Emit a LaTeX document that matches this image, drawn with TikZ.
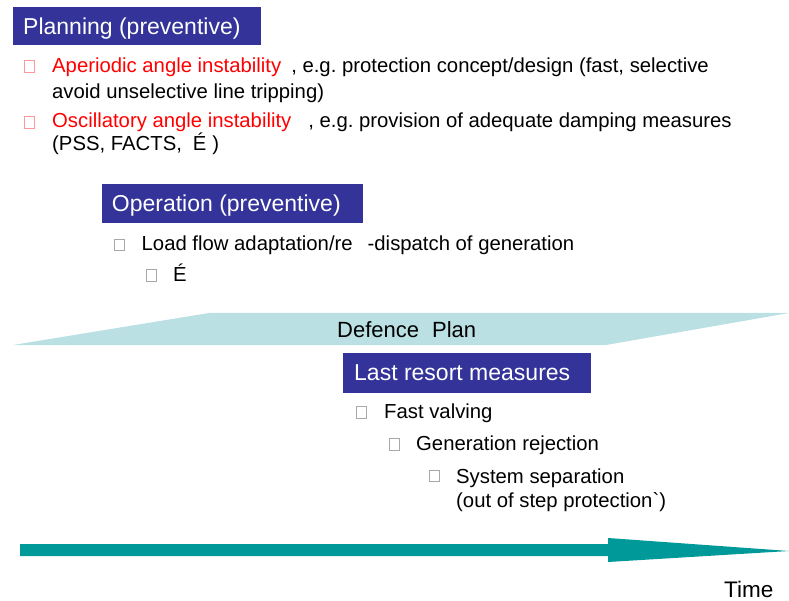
\documentclass[tikz,border=0pt]{standalone}
\usepackage{fontspec}
\setmainfont{Liberation Sans}
\frenchspacing
\definecolor{boxblue}{HTML}{333399}
\definecolor{bandc}{HTML}{BBE0E3}
\definecolor{arrowc}{HTML}{009999}
\definecolor{pinkb}{HTML}{FF9999}
\definecolor{greyb}{HTML}{A8A8A8}
\definecolor{redt}{HTML}{FF0000}
\begin{document}
\begin{tikzpicture}[x=1pt,y=-1pt,
  titlebox/.style={fill=boxblue,draw=none,inner sep=0pt,anchor=north west},
  titletext/.style={text=white,font=\fontsize{23}{27}\selectfont,inner sep=0pt,anchor=base west},
  bodytext/.style={text=black,font=\fontsize{20.3}{26}\selectfont,inner sep=0pt,anchor=base west},
  bigtext/.style={text=black,font=\fontsize{22}{26}\selectfont,inner sep=0pt,anchor=base},
  bul/.style={draw=#1,line width=0.7pt,inner sep=0pt,minimum width=10pt,minimum height=11.5pt}]
\useasboundingbox (0,0) rectangle (789,601);
\fill[white] (0,0) rectangle (789,601);

% Planning
\node[titlebox,minimum width=248pt,minimum height=38pt] (plan) at (13,7) {};
\node[titletext] (plant) at (23,34.5) {Planning (preventive)};
\node[bul=pinkb] (b1) at (29.5,66.2) {};
\node[bodytext] (t1) at (52,73) {\textcolor{redt}{Aperiodic angle instability}\hspace{10pt}, e.g. protection concept/design (fast, selective};
\node[bodytext] (t1b) at (52,99) {avoid unselective line tripping)};
\node[bul=pinkb] (b2) at (29.5,122.5) {};
\node[bodytext] (t2) at (52,128) {\textcolor{redt}{Oscillatory angle instability}\hspace{17pt}, e.g. provision of adequate damping measures};
\node[bodytext] (t2b) at (52,151) {(PSS, FACTS,\hspace{11pt}É\hspace{6pt})};

% Operation
\node[titlebox,minimum width=261pt,minimum height=38.5pt] (op) at (102,184) {};
\node[titletext] (opt) at (111.7,211.7) {Operation (preventive)};
\node[bul=greyb] (b3) at (119,245) {};
\node[bodytext] (t3) at (141.5,251) {Load flow adaptation/re\hspace{15pt}-dispatch of generation};
\node[bul=greyb] (b4) at (151.5,275.5) {};
\node[bodytext] (t4) at (173,281.5) {É};

% Defence plan band
\fill[bandc] (13,345) -- (209,313) -- (789,313) -- (606,345) -- cycle;
\node[bigtext] (dp) at (406.7,337.3) {Defence\hspace{13pt}Plan};

% Last resort
\node[titlebox,minimum width=248pt,minimum height=39.5pt] (lr) at (343,353) {};
\node[titletext] (lrt) at (354,380.7) {Last resort measures};
\node[bul=greyb] (b5) at (361,412.5) {};
\node[bodytext] (t5) at (384,418.3) {Fast valving};
\node[bul=greyb] (b6) at (394,444.5) {};
\node[bodytext] (t6) at (416,450.7) {Generation rejection};
\node[bul=greyb] (b7) at (434,476) {};
\node[bodytext] (t7) at (456,483.3) {System separation};
\node[bodytext] (t7b) at (456,507) {(out of step protection\textasciigrave)};

% Time arrow
\coordinate (astart) at (20,550);
\coordinate (atip) at (789,551);
\fill[arrowc] (20,544) -- (608,544) -- (608,538) -- (atip) -- (608,562) -- (608,556) -- (20,556) -- cycle;
\node[bigtext,font=\fontsize{22.5}{26}\selectfont,anchor=base west] (time) at (724,597.5) {Time};
\end{tikzpicture}
\end{document}
